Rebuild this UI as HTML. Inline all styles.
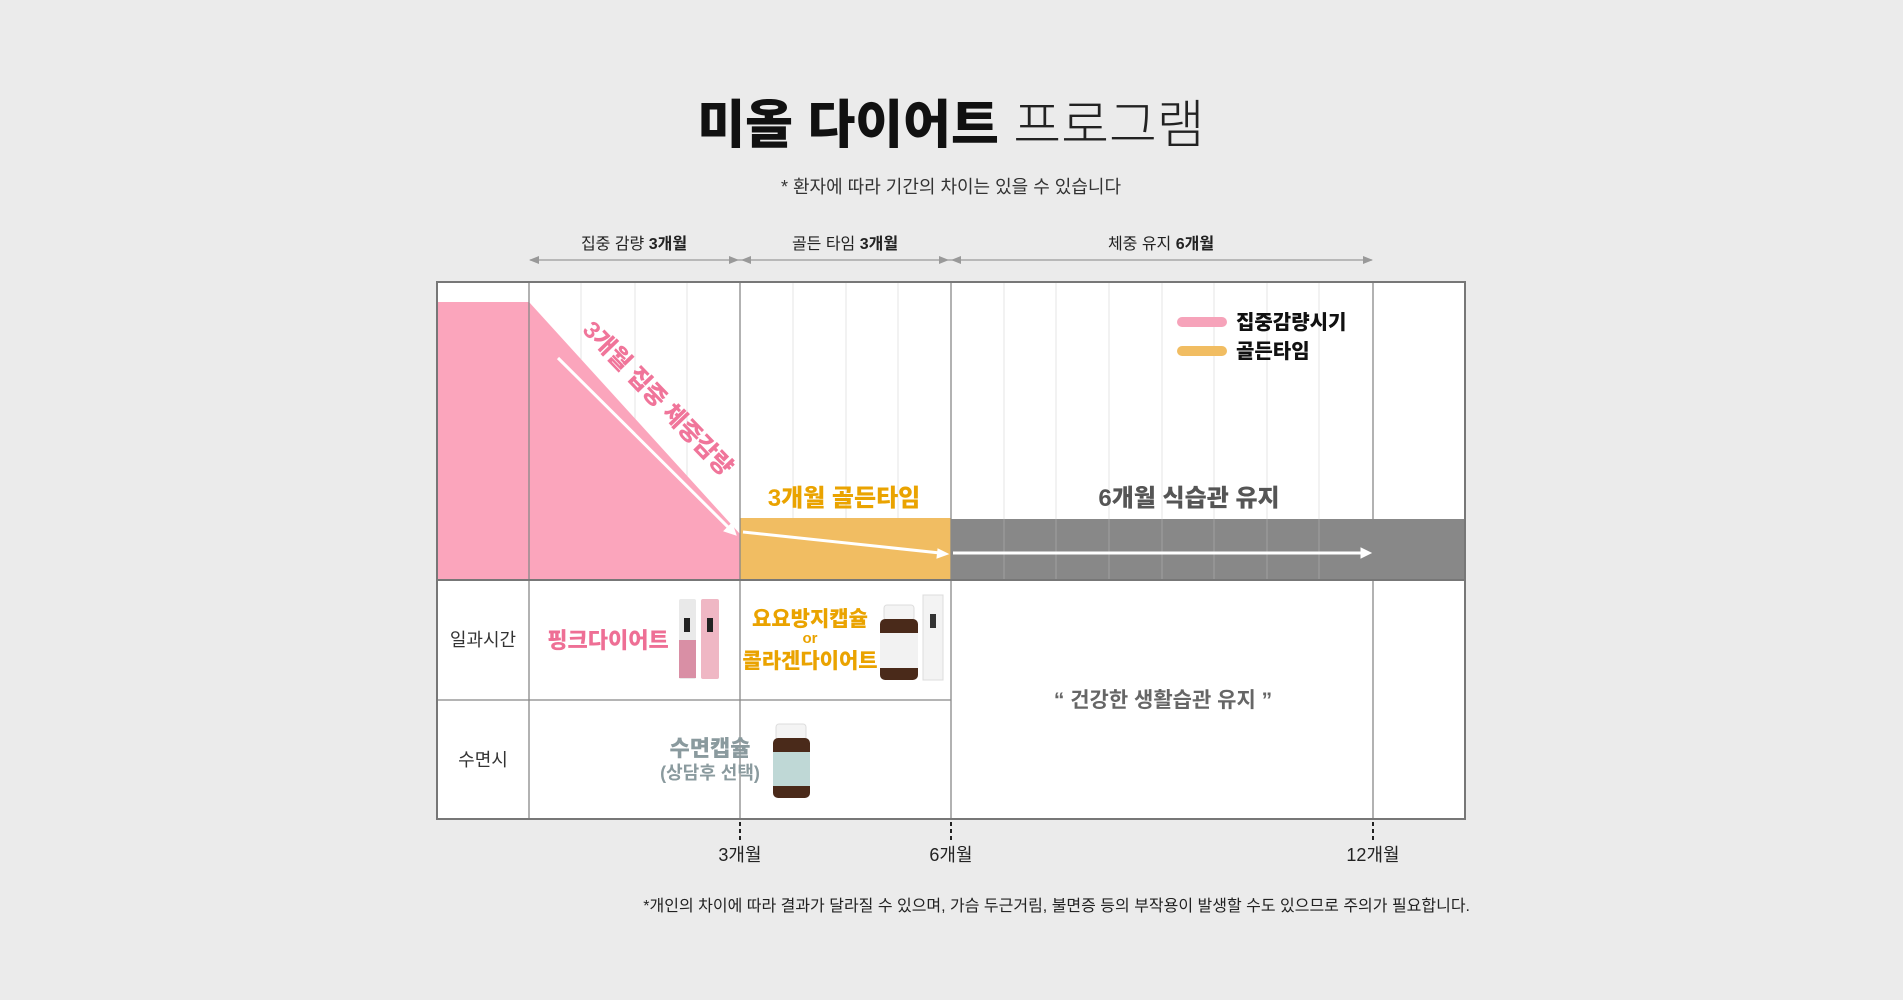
<!DOCTYPE html>
<html><head><meta charset="utf-8"><style>
html,body{margin:0;padding:0;background:#ebebeb;}
svg{display:block;font-family:"Liberation Sans","Noto Sans CJK KR","NanumGothic",sans-serif;}
</style></head><body>
<svg width="1903" height="1000" viewBox="0 0 1903 1000" xmlns="http://www.w3.org/2000/svg">
<rect width="1903" height="1000" fill="#ebebeb"/>
<text x="951" y="143" text-anchor="middle" font-size="52" font-weight="900" fill="#111">미올 다이어트 <tspan font-weight="300" fill="#222">프로그램</tspan></text>
<text x="951" y="193" text-anchor="middle" font-size="18" fill="#333">* 환자에 따라 기간의 차이는 있을 수 있습니다</text>
<g font-size="16" fill="#222" text-anchor="middle">
<text x="634" y="249">집중 감량 <tspan font-weight="bold">3개월</tspan></text>
<text x="845" y="249">골든 타임 <tspan font-weight="bold">3개월</tspan></text>
<text x="1161" y="249">체중 유지 <tspan font-weight="bold">6개월</tspan></text>
</g>
<g stroke="#999" stroke-width="1.2"><line x1="530" y1="260" x2="1372" y2="260"/></g>
<g fill="#999">
<polygon points="529,260 539,256 539,264"/><polygon points="739,260 729,256 729,264"/><polygon points="741,260 751,256 751,264"/>
<polygon points="949,260 939,256 939,264"/><polygon points="951,260 961,256 961,264"/><polygon points="1373,260 1363,256 1363,264"/>
</g>
<rect x="437" y="282" width="1028" height="537" fill="#fff"/>
<g stroke="#e6e6e6" stroke-width="1">
<line x1="581" y1="283" x2="581" y2="580"/><line x1="635" y1="283" x2="635" y2="580"/><line x1="687" y1="283" x2="687" y2="580"/>
<line x1="793" y1="283" x2="793" y2="580"/><line x1="846" y1="283" x2="846" y2="580"/><line x1="898" y1="283" x2="898" y2="580"/>
<line x1="1004" y1="283" x2="1004" y2="580"/><line x1="1056" y1="283" x2="1056" y2="580"/><line x1="1109" y1="283" x2="1109" y2="580"/><line x1="1162" y1="283" x2="1162" y2="580"/><line x1="1214" y1="283" x2="1214" y2="580"/><line x1="1267" y1="283" x2="1267" y2="580"/><line x1="1319" y1="283" x2="1319" y2="580"/>
</g>
<polygon points="437,302 529,302 740,534 740,580 437,580" fill="#fba5bc"/>
<rect x="740" y="518" width="211" height="62" fill="#f1bd62"/>
<rect x="951" y="519" width="514" height="61" fill="#888"/>
<g stroke="#a0a0a0" stroke-width="1">
<line x1="1004" y1="519" x2="1004" y2="580"/><line x1="1056" y1="519" x2="1056" y2="580"/><line x1="1109" y1="519" x2="1109" y2="580"/><line x1="1162" y1="519" x2="1162" y2="580"/><line x1="1214" y1="519" x2="1214" y2="580"/><line x1="1267" y1="519" x2="1267" y2="580"/><line x1="1319" y1="519" x2="1319" y2="580"/>
</g>
<g stroke="#888" stroke-width="1.3" fill="none">
<line x1="529" y1="282" x2="529" y2="819"/>
<line x1="740" y1="282" x2="740" y2="819"/>
<line x1="951" y1="282" x2="951" y2="819"/>
<line x1="1373" y1="282" x2="1373" y2="819"/>
<line x1="437" y1="700" x2="951" y2="700"/>
</g>
<line x1="437" y1="580" x2="1465" y2="580" stroke="#777" stroke-width="2"/>
<rect x="437" y="282" width="1028" height="537" fill="none" stroke="#777" stroke-width="2"/>
<g stroke="#fff" stroke-width="3" fill="#fff">
<line x1="558" y1="358" x2="731" y2="530"/><polygon points="736,535 724,531 732,523" stroke-width="1"/>
<line x1="743" y1="532" x2="940" y2="553"/><polygon points="948,554 938,549 937,558" stroke-width="1"/>
<line x1="953" y1="553" x2="1362" y2="553"/><polygon points="1371,553 1361,548 1361,558" stroke-width="1"/>
</g>
<text x="0" y="0" transform="translate(652,404) rotate(46)" text-anchor="middle" font-size="24" font-weight="900" fill="#f0759a">3개월 집중 체중감량</text>
<text x="844" y="506" text-anchor="middle" font-size="24" font-weight="900" fill="#eaa300">3개월 골든타임</text>
<text x="1189" y="506" text-anchor="middle" font-size="24" font-weight="900" fill="#555">6개월 식습관 유지</text>
<rect x="1177" y="317" width="50" height="10" rx="5" fill="#f6a3ba"/>
<rect x="1177" y="346" width="50" height="10" rx="5" fill="#f1bd62"/>
<text x="1236" y="329" font-size="20" font-weight="900" fill="#111">집중감량시기</text>
<text x="1236" y="358" font-size="20" font-weight="900" fill="#111">골든타임</text>
<g font-size="18" fill="#333" text-anchor="middle">
<text x="483" y="646">일과시간</text><text x="483" y="766">수면시</text>
</g>
<text x="608" y="648" text-anchor="middle" font-size="22" font-weight="900" fill="#ee6f95">핑크다이어트</text>
<rect x="679" y="599" width="17" height="80" rx="2" fill="#e9e9e9"/><rect x="679" y="640" width="17" height="38" fill="#d98fa5"/>
<rect x="701" y="599" width="18" height="80" rx="2" fill="#efb7c4"/>
<rect x="684" y="618" width="6" height="14" fill="#222"/><rect x="707" y="618" width="6" height="14" fill="#222"/>
<g font-weight="900" fill="#eaa300" text-anchor="middle">
<text x="810" y="626" font-size="21">요요방지캡슐</text>
<text x="810" y="643" font-size="15">or</text>
<text x="810" y="668" font-size="21">콜라겐다이어트</text>
</g>
<rect x="884" y="605" width="30" height="15" rx="3" fill="#f4f4f4" stroke="#ddd"/>
<rect x="880" y="619" width="38" height="61" rx="5" fill="#4a2a1a"/>
<rect x="880" y="633" width="38" height="35" fill="#f2f2f2"/>
<rect x="923" y="595" width="20" height="85" fill="#f3f3f3" stroke="#ddd"/><rect x="930" y="614" width="6" height="14" fill="#333"/>
<text x="710" y="756" text-anchor="middle" font-size="22" font-weight="900" fill="#8a9a9e">수면캡슐</text>
<text x="710" y="779" text-anchor="middle" font-size="18" font-weight="bold" fill="#8a9a9e">(상담후 선택)</text>
<rect x="776" y="724" width="30" height="16" rx="3" fill="#f4f4f4" stroke="#ddd"/>
<rect x="773" y="738" width="37" height="60" rx="5" fill="#4a2a1a"/>
<rect x="773" y="752" width="37" height="34" fill="#bfd8d6"/>
<text x="1163" y="707" text-anchor="middle" font-size="21" font-weight="bold" fill="#666">“ 건강한 생활습관 유지 ”</text>
<g stroke="#222" stroke-width="2" stroke-dasharray="4,3">
<line x1="740" y1="822" x2="740" y2="840"/><line x1="951" y1="822" x2="951" y2="840"/><line x1="1373" y1="822" x2="1373" y2="840"/>
</g>
<g font-size="18" fill="#222" text-anchor="middle">
<text x="740" y="861">3개월</text><text x="951" y="861">6개월</text><text x="1373" y="861">12개월</text>
</g>
<text x="1470" y="911" text-anchor="end" font-size="16" fill="#222">*개인의 차이에 따라 결과가 달라질 수 있으며, 가슴 두근거림, 불면증 등의 부작용이 발생할 수도 있으므로 주의가 필요합니다.</text>
</svg>
</body></html>
